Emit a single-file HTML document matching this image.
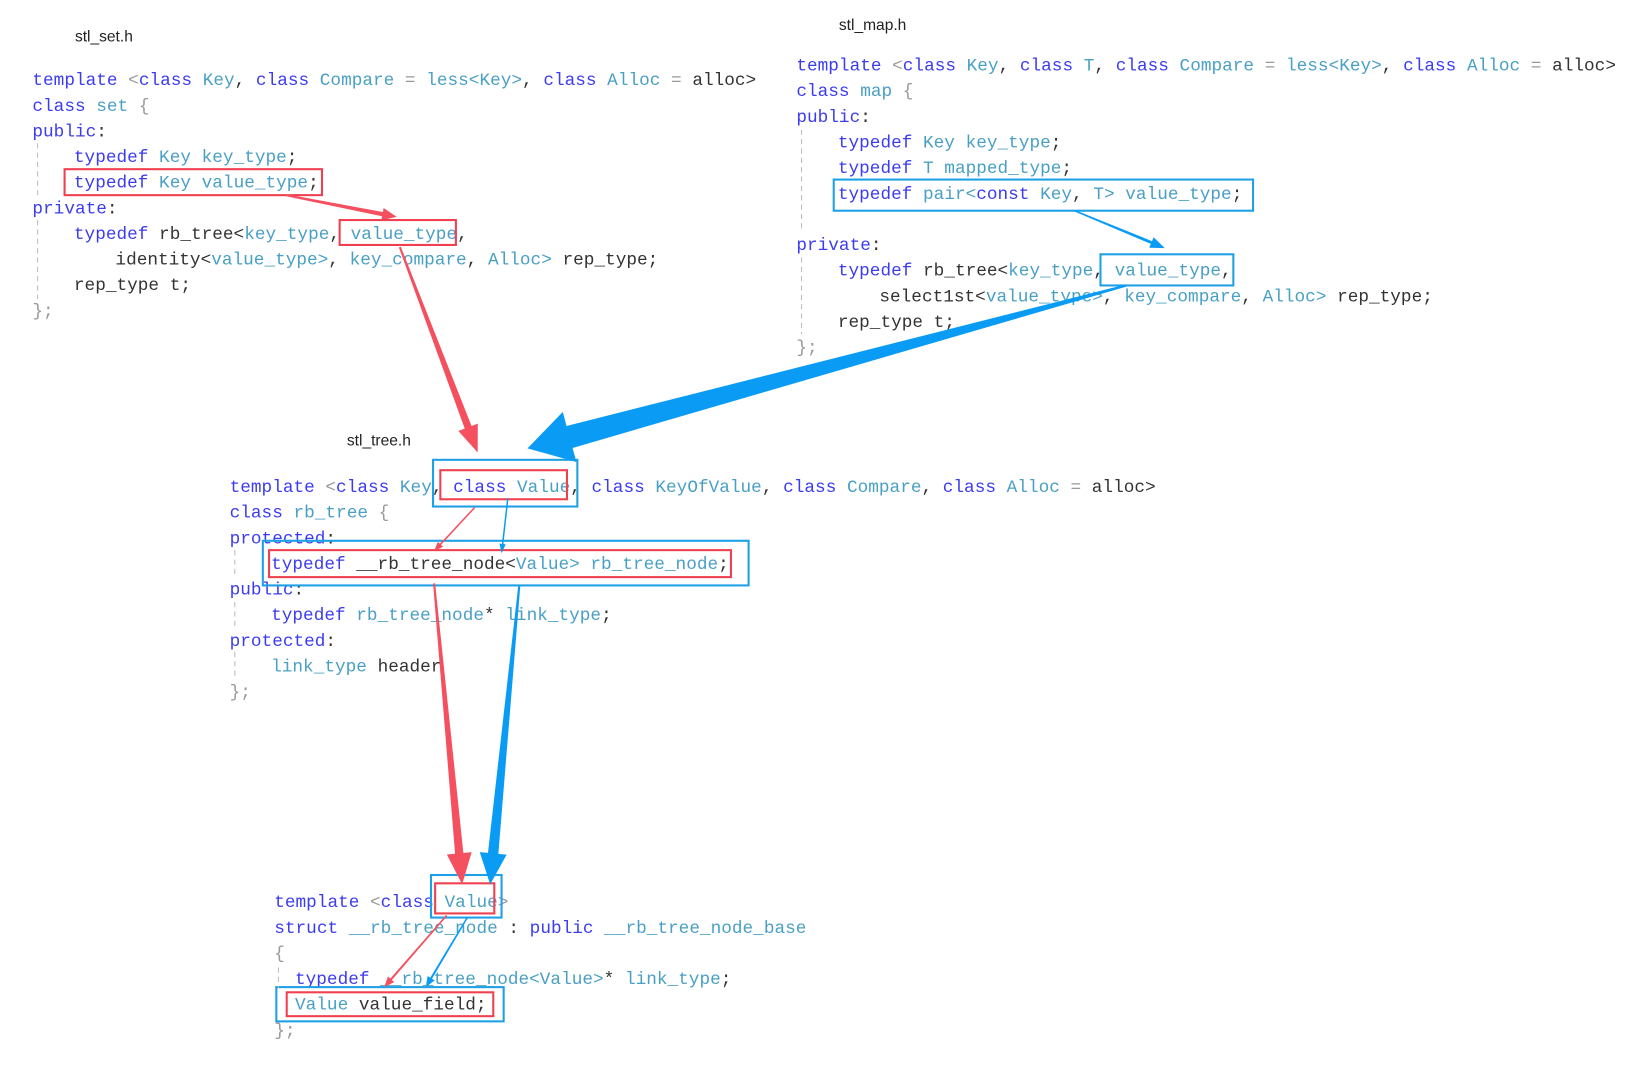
<!DOCTYPE html>
<html><head><meta charset="utf-8"><style>
html,body{margin:0;padding:0;background:#fff;width:1628px;height:1066px;overflow:hidden}
svg text.c{font-family:"Liberation Mono",monospace;font-size:17.1px}
svg text.l{font-family:"Liberation Sans",sans-serif;font-size:15px;fill:#222}
.k{fill:#3c3cf0}.t{fill:#4aa0c4}.p{fill:#333}.g{fill:#999}
</style></head><body>
<svg id="s" xmlns="http://www.w3.org/2000/svg" width="1628" height="1066" viewBox="0 0 1568 1027">
<text class="l" x="72" y="40">stl_set.h</text>
<text class="l" x="808" y="29">stl_map.h</text>
<text class="l" x="334" y="429">stl_tree.h</text>
<g id="code"></g>
<g fill="none" stroke-width="2">
<rect x="62" y="163" width="248" height="25" stroke="#f04050"/>
<rect x="327" y="212" width="112" height="24" stroke="#f04050"/>
<rect x="803" y="173" width="404" height="30" stroke="#1ea0e6"/>
<rect x="1060" y="245" width="128" height="30" stroke="#1ea0e6"/>
<rect x="417" y="443" width="139" height="45" stroke="#1ea0e6"/>
<rect x="424" y="453" width="122" height="28" stroke="#f04050"/>
<rect x="253" y="521" width="468" height="43" stroke="#1ea0e6"/>
<rect x="259" y="530" width="445" height="26" stroke="#f04050"/>
<rect x="415" y="843" width="68" height="41" stroke="#1ea0e6"/>
<rect x="419" y="851" width="57" height="29" stroke="#f04050"/>
<rect x="266" y="951" width="219" height="33" stroke="#1ea0e6"/>
<rect x="276" y="956" width="199" height="23" stroke="#f04050"/>
</g>
<g stroke="#bbb" stroke-width="1" stroke-dasharray="5,4">
<line x1="36" y1="138" x2="36" y2="188"/><line x1="36" y1="212" x2="36" y2="288"/>
<line x1="772" y1="125" x2="772" y2="222"/><line x1="772" y1="248" x2="772" y2="322"/>
<line x1="226" y1="530" x2="226" y2="555"/><line x1="226" y1="580" x2="226" y2="604"/><line x1="226" y1="628" x2="226" y2="652"/>
<line x1="268" y1="932" x2="268" y2="952"/>
</g>
<g id="arr"></g>
</svg>
<script>
var NS="http://www.w3.org/2000/svg";
function T(x,y,parts){var t=document.createElementNS(NS,"text");t.setAttribute("class","c");t.setAttribute("x",x);t.setAttribute("y",y);t.setAttribute("xml:space","preserve");
parts.forEach(function(p){var s=document.createElementNS(NS,"tspan");s.setAttribute("class",p[1]);s.textContent=p[0];t.appendChild(s);});document.getElementById("code").appendChild(t);}
var k="k",t="t",p="p",g="g";
// set
var X=31,Y=82,d=24.7;
T(X,Y,[["template",k],[" <",g],["class",k],[" Key",t],[", ",p],["class",k],[" Compare",t],[" = ",g],["less<Key>",t],[", ",p],["class",k],[" Alloc",t],[" = ",g],["alloc>",p]]);
T(X,Y+d,[["class",k],[" set",t],[" {",g]]);
T(X,Y+2*d,[["public",k],[":",p]]);
T(71,Y+3*d,[["typedef",k],[" Key",t],[" key_type",t],[";",p]]);
T(71,Y+4*d,[["typedef",k],[" Key",t],[" value_type",t],[";",p]]);
T(X,Y+5*d,[["private",k],[":",p]]);
T(71,Y+6*d,[["typedef",k],[" rb_tree<",p],["key_type",t],[", ",p],["value_type",t],[",",p]]);
T(111,Y+7*d,[["identity<",p],["value_type>",t],[", ",p],["key_compare",t],[", ",p],["Alloc>",t],[" rep_type;",p]]);
T(71,Y+8*d,[["rep_type t;",p]]);
T(X,Y+9*d,[["};",g]]);
// map
X=767;Y=68;
T(X,Y,[["template",k],[" <",g],["class",k],[" Key",t],[", ",p],["class",k],[" T",t],[", ",p],["class",k],[" Compare",t],[" = ",g],["less<Key>",t],[", ",p],["class",k],[" Alloc",t],[" = ",g],["alloc>",p]]);
T(X,Y+d,[["class",k],[" map",t],[" {",g]]);
T(X,Y+2*d,[["public",k],[":",p]]);
T(807,Y+3*d,[["typedef",k],[" Key",t],[" key_type",t],[";",p]]);
T(807,Y+4*d,[["typedef",k],[" T",t],[" mapped_type",t],[";",p]]);
T(807,Y+5*d,[["typedef",k],[" pair<",t],["const",k],[" Key",t],[", ",p],["T>",t],[" value_type",t],[";",p]]);
T(X,Y+7*d,[["private",k],[":",p]]);
T(807,Y+8*d,[["typedef",k],[" rb_tree<",p],["key_type",t],[", ",p],["value_type",t],[",",p]]);
T(847,Y+9*d,[["select1st<",p],["value_type>",t],[", ",p],["key_compare",t],[", ",p],["Alloc>",t],[" rep_type;",p]]);
T(807,Y+10*d,[["rep_type t;",p]]);
T(X,Y+11*d,[["};",g]]);
// tree
X=221;Y=474;
T(X,Y,[["template",k],[" <",g],["class",k],[" Key",t],[", ",p],["class",k],[" Value",t],[", ",p],["class",k],[" KeyOfValue",t],[", ",p],["class",k],[" Compare",t],[", ",p],["class",k],[" Alloc",t],[" = ",g],["alloc>",p]]);
T(X,Y+d,[["class",k],[" rb_tree",t],[" {",g]]);
T(X,Y+2*d,[["protected",k],[":",p]]);
T(261,Y+3*d,[["typedef",k],[" __rb_tree_node<",p],["Value>",t],[" rb_tree_node",t],[";",p]]);
T(X,Y+4*d,[["public",k],[":",p]]);
T(261,Y+5*d,[["typedef",k],[" rb_tree_node",t],["*",p],[" link_type",t],[";",p]]);
T(X,Y+6*d,[["protected",k],[":",p]]);
T(261,Y+7*d,[["link_type",t],[" header",p]]);
T(X,Y+8*d,[["};",g]]);
// node
X=264;Y=874;
T(X,Y,[["template",k],[" <",g],["class",k],[" Value",t],[">",g]]);
T(X,Y+d,[["struct",k],[" __rb_tree_node",t],[" : ",p],["public",k],[" __rb_tree_node_base",t]]);
T(X,Y+2*d,[["{",g]]);
T(284,Y+3*d,[["typedef",k],[" __rb_tree_node<",t],["Value>",t],["*",p],[" link_type",t],[";",p]]);
T(284,Y+4*d,[["Value",t],[" value_field;",p]]);
T(X,Y+5*d,[["};",g]]);
// arrows
function A(x1,y1,x2,y2,w0,w1,hl,hw,c){var dx=x2-x1,dy=y2-y1,L=Math.hypot(dx,dy),ux=dx/L,uy=dy/L,nx=-uy,ny=ux;
var bx=x2-ux*hl,by=y2-uy*hl;
var pts=[[x1+nx*w0/2,y1+ny*w0/2],[bx+nx*w1/2,by+ny*w1/2],[bx+nx*hw/2,by+ny*hw/2],[x2,y2],[bx-nx*hw/2,by-ny*hw/2],[bx-nx*w1/2,by-ny*w1/2],[x1-nx*w0/2,y1-ny*w0/2]];
var e=document.createElementNS(NS,"polygon");e.setAttribute("points",pts.map(function(q){return q[0].toFixed(1)+","+q[1].toFixed(1)}).join(" "));e.setAttribute("fill",c);document.getElementById("arr").appendChild(e);}
var R="#f5505f",B="#0a9cf5";
A(275,188,382,209,2,4,14,12,R);
A(385,238,460,436,2,7,26,20,R);
A(1035,203,1122,239,1.5,3,14,11,B);
A(1085,275,508,432,2,22,42,50,B);
A(457,489,418,531,1.5,1.5,9,7,R);
A(489,480,483,533,1.5,1.5,9,6,B);
A(418,562,445,852,2,8,30,24,R);
A(500,565,472,852,2,10,30,26,B);
A(430,882,370,951,1.5,2,10,8,R);
A(450,884,410,951,1.5,2,10,8,B);
</script>
</body></html>
